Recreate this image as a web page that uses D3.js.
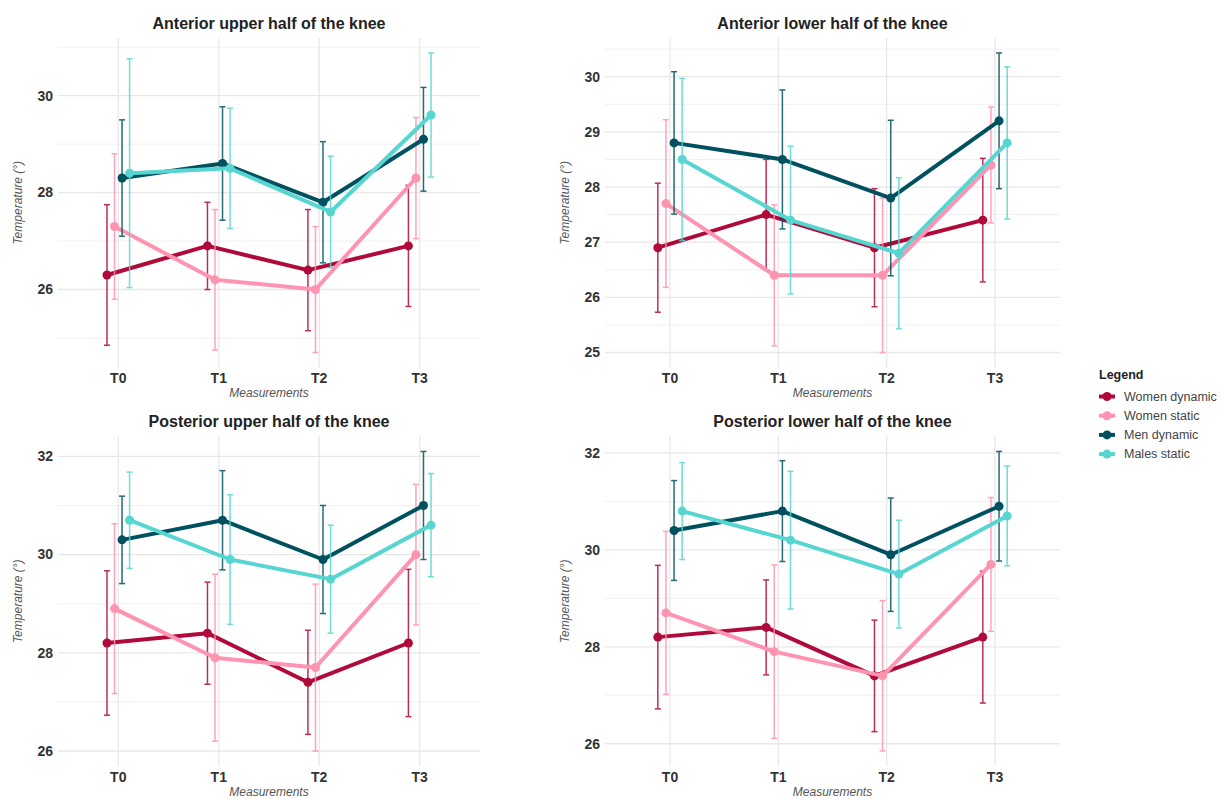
<!DOCTYPE html>
<html>
<head>
<meta charset="utf-8">
<script src="https://cdn.jsdelivr.net/npm/d3@7"></script>
<style>
  body { margin: 0; background: #fff; }
  text { font-family: "Liberation Sans", Arial, sans-serif; }
</style>
</head>
<body>
<svg id="chart" width="1224" height="799"></svg>
<script>
var measurements = ["T0", "T1", "T2", "T3"];
var groups = ["Women dynamic", "Women static", "Men dynamic", "Males static"];
var colors = ["#b00a3b", "#ff94b1", "#00515f", "#57d6d1"];

var titles = ["Anterior upper half of the knee", "Anterior lower half of the knee",
              "Posterior upper half of the knee", "Posterior lower half of the knee"];

// rows follow the order of groups, columns follow measurements
var antUpperMean = [
  [26.3, 26.9, 26.4, 26.9],
  [27.3, 26.2, 26.0, 28.3],
  [28.3, 28.6, 27.8, 29.1],
  [28.4, 28.5, 27.6, 29.6]
];
var antUpperSd = [
  [1.45, 0.9, 1.25, 1.25],
  [1.5, 1.45, 1.3, 1.25],
  [1.2, 1.17, 1.25, 1.07],
  [2.36, 1.24, 1.15, 1.28]
];

var antLowerMean = [
  [26.9, 27.5, 26.9, 27.4],
  [27.7, 26.4, 26.4, 28.4],
  [28.8, 28.5, 27.8, 29.2],
  [28.5, 27.4, 26.8, 28.8]
];
var antLowerSd = [
  [1.17, 1.0, 1.07, 1.12],
  [1.52, 1.28, 1.4, 1.05],
  [1.29, 1.26, 1.41, 1.23],
  [1.47, 1.34, 1.37, 1.38]
];

var postUpperMean = [
  [28.2, 28.4, 27.4, 28.2],
  [28.9, 27.9, 27.7, 30.0],
  [30.3, 30.7, 29.9, 31.0],
  [30.7, 29.9, 29.5, 30.6]
];
var postUpperSd = [
  [1.47, 1.04, 1.06, 1.5],
  [1.73, 1.7, 1.7, 1.43],
  [0.89, 1.01, 1.1, 1.1],
  [0.98, 1.32, 1.1, 1.05]
];

var postLowerMean = [
  [28.2, 28.4, 27.4, 28.2],
  [28.7, 27.9, 27.4, 29.7],
  [30.4, 30.8, 29.9, 30.9],
  [30.8, 30.2, 29.5, 30.7]
];
var postLowerSd = [
  [1.48, 0.98, 1.15, 1.36],
  [1.68, 1.79, 1.55, 1.38],
  [1.03, 1.04, 1.17, 1.13],
  [1.0, 1.42, 1.11, 1.03]
];

var antUpperTicks = [26, 28, 30];
var antLowerTicks = [25, 26, 27, 28, 29, 30];
var postUpperTicks = [26, 28, 30, 32];
var postLowerTicks = [26, 28, 30, 32];

var means = [antUpperMean, antLowerMean, postUpperMean, postLowerMean];
var sds = [antUpperSd, antLowerSd, postUpperSd, postLowerSd];
var ticks = [antUpperTicks, antLowerTicks, postUpperTicks, postLowerTicks];

var boxes = [
  {x0: 58, x1: 480, y0: 38, y1: 367.5},
  {x0: 605, x1: 1060, y0: 38, y1: 367.5},
  {x0: 58, x1: 480, y0: 436.5, y1: 766},
  {x0: 605, x1: 1060, y0: 436.5, y1: 766}
];

var svg = d3.select("#chart");

boxes.forEach(function(b, p) {
  var mean = means[p], sd = sds[p], tk = ticks[p];

  var lo = d3.min(mean, function(row, g) { return d3.min(row, function(v, i) { return v - sd[g][i]; }); });
  var hi = d3.max(mean, function(row, g) { return d3.max(row, function(v, i) { return v + sd[g][i]; }); });
  var pad = (hi - lo) * 0.05;

  var x = d3.scalePoint().domain(measurements).range([b.x0, b.x1]).padding(0.6);
  var y = d3.scaleLinear().domain([lo - pad, hi + pad]).range([b.y1, b.y0]);
  var dodge = function(g) { return (g - 1.5) * 0.075 * x.step(); };

  var panel = svg.append("g");

  // minor grid, half way between the labelled ticks
  var half = (tk[1] - tk[0]) / 2;
  var minor = [];
  for (var v = tk[0] - half; v <= hi + pad; v += half * 2) {
    if (v >= lo - pad) minor.push(v);
  }
  panel.selectAll(".minor").data(minor).enter().append("line")
    .attr("x1", b.x0).attr("x2", b.x1)
    .attr("y1", function(d) { return y(d); }).attr("y2", function(d) { return y(d); })
    .attr("stroke", "#f0f0f0").attr("stroke-width", 1);

  panel.selectAll(".major").data(tk).enter().append("line")
    .attr("x1", b.x0).attr("x2", b.x1)
    .attr("y1", function(d) { return y(d); }).attr("y2", function(d) { return y(d); })
    .attr("stroke", "#e8e8e8").attr("stroke-width", 1.3);

  panel.selectAll(".vgrid").data(measurements).enter().append("line")
    .attr("x1", function(d) { return x(d); }).attr("x2", function(d) { return x(d); })
    .attr("y1", b.y0).attr("y2", b.y1)
    .attr("stroke", "#e8e8e8").attr("stroke-width", 1.3);

  // y tick labels
  panel.selectAll(".ylab").data(tk).enter().append("text")
    .attr("x", b.x0 - 5)
    .attr("y", function(d) { return y(d); })
    .attr("dy", "0.35em")
    .style("text-anchor", "end")
    .style("font-size", "14px")
    .style("font-weight", "bold")
    .style("fill", "#333")
    .text(function(d) { return d; });

  // x tick labels
  panel.selectAll(".xlab").data(measurements).enter().append("text")
    .attr("x", function(d) { return x(d); })
    .attr("y", b.y1 + 15.5)
    .style("text-anchor", "middle")
    .style("font-size", "14px")
    .style("font-weight", "bold")
    .style("fill", "#333")
    .text(function(d) { return d; });

  panel.append("text")
    .attr("x", (b.x0 + b.x1) / 2)
    .attr("y", b.y1 + 29.5)
    .style("text-anchor", "middle")
    .style("font-size", "12px")
    .style("font-style", "italic")
    .style("fill", "#555")
    .text("Measurements");

  panel.append("text")
    .attr("transform", "translate(" + (b.x0 - 40) + "," + ((b.y0 + b.y1) / 2) + ") rotate(-90)")
    .attr("dy", "0.35em")
    .style("text-anchor", "middle")
    .style("font-size", "12px")
    .style("font-style", "italic")
    .style("fill", "#555")
    .text("Temperature (°)");

  panel.append("text")
    .attr("x", (b.x0 + b.x1) / 2)
    .attr("y", b.y0 - 9.5)
    .style("text-anchor", "middle")
    .style("font-size", "16px")
    .style("font-weight", "bold")
    .style("fill", "#222")
    .text(titles[p]);

  var line = d3.line()
    .x(function(d) { return x(d.t) + dodge(d.g); })
    .y(function(d) { return y(d.v); });

  groups.forEach(function(name, g) {
    var pts = measurements.map(function(t, i) {
      return {t: t, g: g, v: mean[g][i], s: sd[g][i]};
    });

    panel.append("path")
      .datum(pts)
      .attr("d", line)
      .attr("fill", "none")
      .attr("stroke", colors[g])
      .attr("stroke-width", 4)
      .attr("stroke-linejoin", "round");

    var bars = panel.selectAll(".bar" + g).data(pts).enter().append("g")
      .attr("stroke", colors[g])
      .attr("stroke-width", 1.5)
      .attr("opacity", 0.85);
    bars.append("line")
      .attr("x1", function(d) { return x(d.t) + dodge(g); })
      .attr("x2", function(d) { return x(d.t) + dodge(g); })
      .attr("y1", function(d) { return y(d.v - d.s); })
      .attr("y2", function(d) { return y(d.v + d.s); });
    bars.append("line")
      .attr("x1", function(d) { return x(d.t) + dodge(g) - 3; })
      .attr("x2", function(d) { return x(d.t) + dodge(g) + 3; })
      .attr("y1", function(d) { return y(d.v + d.s); })
      .attr("y2", function(d) { return y(d.v + d.s); });
    bars.append("line")
      .attr("x1", function(d) { return x(d.t) + dodge(g) - 3; })
      .attr("x2", function(d) { return x(d.t) + dodge(g) + 3; })
      .attr("y1", function(d) { return y(d.v - d.s); })
      .attr("y2", function(d) { return y(d.v - d.s); });

    panel.selectAll(".pt" + g).data(pts).enter().append("circle")
      .attr("cx", function(d) { return x(d.t) + dodge(g); })
      .attr("cy", function(d) { return y(d.v); })
      .attr("r", 4.5)
      .attr("fill", colors[g]);
  });
});

// legend
var legend = svg.append("g").attr("transform", "translate(1099,375)");
legend.append("text")
  .attr("y", 0).attr("dy", "0.35em")
  .style("font-size", "12.5px")
  .style("font-weight", "bold")
  .style("fill", "#222")
  .text("Legend");

var items = legend.selectAll(".item").data(groups).enter().append("g")
  .attr("transform", function(d, i) { return "translate(0," + (21.5 + i * 19.2) + ")"; });
items.append("line")
  .attr("x1", 0).attr("x2", 16)
  .attr("stroke", function(d, i) { return colors[i]; })
  .attr("stroke-width", 4);
items.append("circle")
  .attr("cx", 8).attr("r", 4.5)
  .attr("fill", function(d, i) { return colors[i]; });
items.append("text")
  .attr("x", 25).attr("dy", "0.35em")
  .style("font-size", "12.5px")
  .style("fill", "#444")
  .text(function(d) { return d; });
</script>
</body>
</html>
